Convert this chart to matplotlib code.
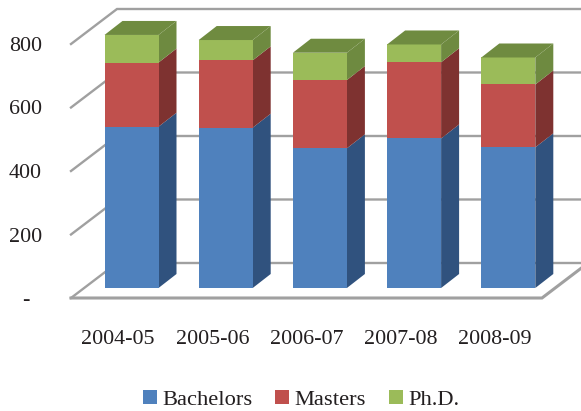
"""Stacked 3D-look column chart, degrees by year."""
import matplotlib
matplotlib.use("Agg")
import matplotlib.pyplot as plt
from matplotlib.patches import Patch, Polygon

years = ["2004-05", "2005-06", "2006-07", "2007-08", "2008-09"]
bachelors = [508, 505, 440, 471, 443]
masters = [202, 212, 215, 240, 198]
phd = [87, 64, 86, 56, 85]
y_ticks = [0, 200, 400, 600, 800]
y_labels = ["-  ", "200", "400", "600", "800"]
series_names = ["Bachelors", "Masters", "Ph.D."]

front_colors = ["#4F81BD", "#C0504D", "#9BBB59"]
side_colors = ["#30527E", "#7E3230", "#6E8A40"]
top_color = "#6F8B40"
grid_color = "#A0A0A0"
text_color = "#231F20"

plt.rcParams["font.family"] = ["Liberation Serif", "DejaVu Serif"]

W, H = 581, 411
fig = plt.figure(figsize=(W / 100, H / 100), dpi=100)
# axes box is the front plane of the fake 3D floor
ax = fig.add_axes([71 / W, 1 - 298 / H, 471 / W, 254 / H])
ax.set_xlim(-0.5, 4.5)
ax.set_ylim(0, 800)
for s in ax.spines.values():
    s.set_visible(False)

px_x = 5 / 471  # data units per pixel
px_y = 800 / 254


def shift(x, y, dx, dy):
    return x + dx * px_x, y + dy * px_y


# walls: diagonal plus back line for each tick
wall_dx, wall_dy = 46, 35
for v in y_ticks:
    bx, by = shift(-0.5, v, wall_dx, wall_dy)
    rx, _ = shift(4.5, v, wall_dx, wall_dy)
    ax.plot([-0.5, bx, rx], [v, by, by], color=grid_color, lw=1.7,
            clip_on=False, zorder=1, solid_joinstyle="miter")
# floor front edge and right diagonal
rx, ry = shift(4.5, 0, wall_dx, wall_dy)
ax.plot([-0.5, 4.5, rx], [0, 0, ry], color=grid_color, lw=2.2,
        clip_on=False, zorder=1, solid_joinstyle="miter")

# columns
bar_w = 54 * px_x
off_dx, off_dy = 13.4, 10
depth_dx, depth_dy = 18, 14
for i in range(len(years)):
    cx, base = shift(i, 0, off_dx, off_dy)
    x0, x1 = cx - bar_w / 2, cx + bar_w / 2
    bottom = base
    for vals, fc, sc in zip([bachelors, masters, phd], front_colors, side_colors):
        top = bottom + vals[i]
        sx, sb = shift(x1, bottom, depth_dx, depth_dy)
        _, st = shift(x1, top, depth_dx, depth_dy)
        ax.add_patch(Polygon([(x1, bottom), (sx, sb), (sx, st), (x1, top)],
                             fc=sc, ec="none", clip_on=False, zorder=3))
        ax.add_patch(Polygon([(x0, bottom), (x1, bottom), (x1, top), (x0, top)],
                             fc=fc, ec="none", clip_on=False, zorder=4))
        bottom = top
    tlx, tly = shift(x0, bottom, depth_dx, depth_dy)
    trx, _ = shift(x1, bottom, depth_dx, depth_dy)
    ax.add_patch(Polygon([(x0, bottom), (x1, bottom), (trx, tly), (tlx, tly)],
                         fc=top_color, ec="none", clip_on=False, zorder=4))

ax.set_xticks(range(len(years)))
ax.set_xticklabels(years)
ax.set_yticks(y_ticks)
ax.set_yticklabels(y_labels)
ax.tick_params(axis="x", length=0, pad=23, labelsize=15.8, labelcolor=text_color)
ax.tick_params(axis="y", length=0, pad=21, labelsize=15.8, labelcolor=text_color)

handles = [Patch(fc=c, ec="none") for c in front_colors]
fig.legend(handles, series_names, loc="center", ncol=3,
           bbox_to_anchor=(301 / W, 1 - 400 / H), frameon=False,
           fontsize=16.2, labelcolor=text_color, handlelength=0.62,
           handleheight=0.62, handletextpad=0.25, columnspacing=1.0,
           borderpad=0, borderaxespad=0)

fig.savefig("out.png", dpi=100)
